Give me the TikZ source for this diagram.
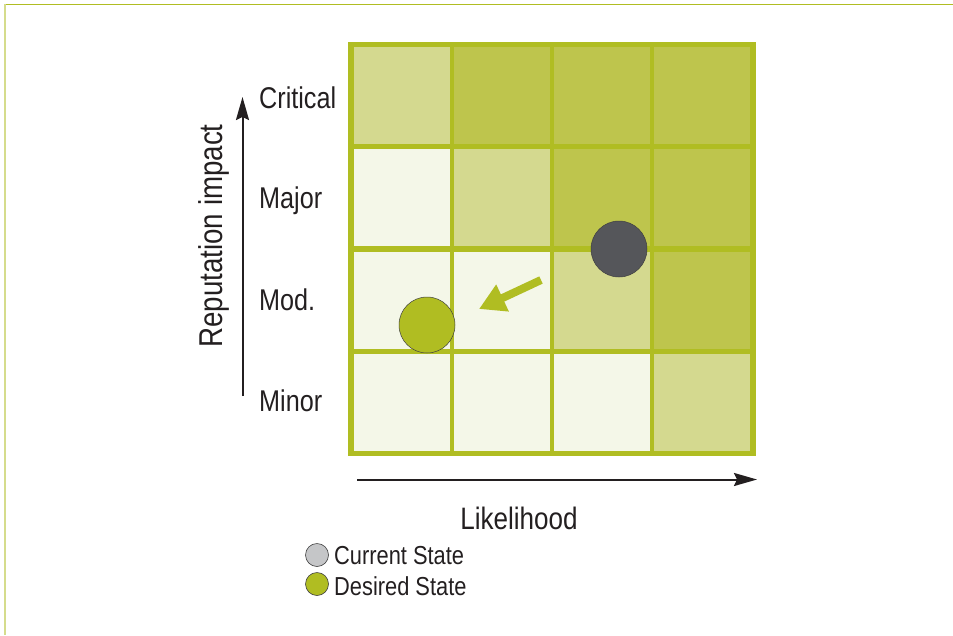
\documentclass[tikz,border=0pt]{standalone}
\usepackage{fontspec}
\setmainfont[FakeStretch=0.84]{Liberation Sans}
\usetikzlibrary{arrows.meta}
\definecolor{cBorder}{HTML}{B0BD22}
\definecolor{cPale}{HTML}{F4F7E8}
\definecolor{cMed}{HTML}{D4D98F}
\definecolor{cDark}{HTML}{BEC54D}
\definecolor{cGray}{HTML}{55565A}
\definecolor{cLgray}{HTML}{C5C6C8}
\definecolor{cFrameL}{HTML}{D5DC8C}
\definecolor{cText}{HTML}{231F20}
\tikzset{
  cell/.style={anchor=north west, inner sep=0pt, outer sep=0pt, minimum width=96pt, minimum height=97pt},
  bigdot/.style={circle, inner sep=0pt, minimum size=56pt, draw=black!75, line width=0.5pt},
  legdot/.style={circle, inner sep=0pt, minimum size=23pt, draw=black!75, line width=0.6pt},
  axis/.style={line width=2pt, cText, -{Stealth[length=23pt,width=13pt,inset=3pt]}},
  bigarrow/.style={line width=8pt, cBorder, -{Triangle[length=26pt,width=28pt]}},
  lab/.style={anchor=base west, inner sep=0pt, text=cText, font=\fontsize{30}{36}\selectfont},
}
\begin{document}
\begin{tikzpicture}[x=1pt,y=-1pt]
\useasboundingbox (0,0) rectangle (953,635);
% frame
\draw[cBorder, line width=1.3pt] (4,4.5) -- (953,4.5);
\draw[cFrameL, line width=1.8pt] (4.8,4) -- (4.8,635);
% grid
\node[anchor=north west, inner sep=0pt, outer sep=0pt, minimum width=408pt, minimum height=414pt, fill=cBorder] (grid) at (348,42) {};
\foreach \i in {0,...,3}{
  \foreach \j in {0,...,3}{
    \ifnum\i=\j \def\cc{cMed}\else\ifnum\i>\j \def\cc{cDark}\else\def\cc{cPale}\fi\fi
    \node[cell, fill=\cc] (c\i\j) at ({354+100*\i},{47+102.3*\j}) {};
  }
}
% states
\node[bigdot, fill=cGray] (cur) at (619,249) {};
\node[bigdot, fill=cBorder] (des) at (427,325) {};
\coordinate (mvS) at (541,280);
\coordinate (mvE) at (479,309);
\draw[bigarrow] (mvS) -- (mvE);
% axes
\coordinate (yA) at (242.5,396);
\coordinate (yB) at (242.5,97);
\draw[axis] (yA) -- (yB);
\coordinate (xA) at (357,479.5);
\coordinate (xB) at (757,479.5);
\draw[axis] (xA) -- (xB);
% labels
\node[lab] (lCrit) at (259,108) {Critical};
\node[lab] (lMaj) at (259,208) {Major};
\node[lab] (lMod) at (259,310) {Mod.};
\node[lab] (lMin) at (259,411) {Minor};
\node[anchor=base, inner sep=0pt, text=cText, rotate=90, font=\fontsize{33}{40}\selectfont] (ylab) at (222,236) {Reputation impact};
\node[anchor=base, inner sep=0pt, text=cText, font=\fontsize{31}{37}\selectfont] (xlab) at (519,529) {Likelihood};
% legend
\node[legdot, fill=cLgray] (leg1) at (317,555) {};
\node[legdot, fill=cBorder] (leg2) at (317,584) {};
\node[anchor=base west, inner sep=0pt, text=cText, font=\fontsize{26}{31}\selectfont] (leg1t) at (334,564) {Current State};
\node[anchor=base west, inner sep=0pt, text=cText, font=\fontsize{26}{31}\selectfont] (leg2t) at (334,595) {Desired State};
\end{tikzpicture}
\end{document}
